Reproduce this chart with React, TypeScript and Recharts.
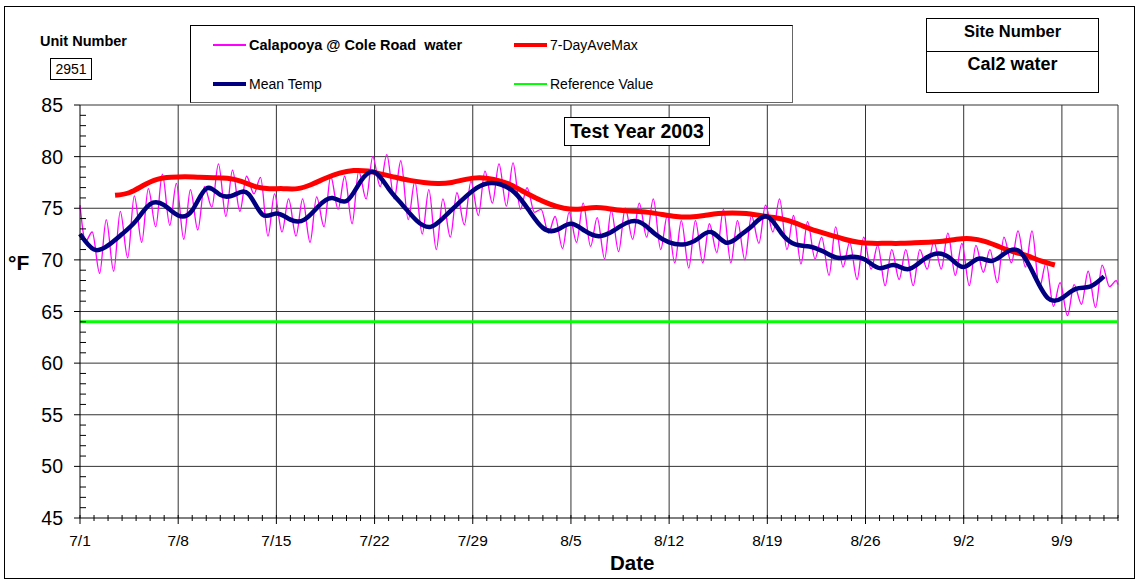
import React from 'react'
import { ComposedChart, Line, XAxis, YAxis, CartesianGrid } from 'recharts'

// daily readings, day 0 = 7/1
const dateLabels = ['7/1', '7/8', '7/15', '7/22', '7/29', '8/5', '8/12', '8/19', '8/26', '9/2', '9/9']
const yTickValues = Array.from({ length: 41 }, (_, i) => 45 + i)
const xTickValues = Array.from({ length: 75 }, (_, i) => i)

// hourly water temp, summarised as daily low (morning) and high (evening)
const waterStart = 75.3
const waterEnd = 67.6
const dailyLow = [
  71.8, 68.7, 68.9, 70.2, 71.7, 73.2, 73.35, 72.0, 72.9, 75.1,
  74.2, 74.7, 76.4, 72.3, 72.7, 72.3, 71.7, 73.2, 74.9, 73.5,
  75.9, 77.1, 75.9, 73.9, 72.5, 71.0, 72.2, 73.4, 74.3, 75.5,
  75.2, 74.9, 74.6, 72.6, 71.1, 71.7, 71.3, 70.1, 70.8, 72.0,
  72.2, 71.0, 69.7, 69.2, 69.7, 70.7, 69.7, 70.0, 71.6, 72.7,
  71.0, 69.6, 70.1, 68.5, 69.3, 68.1, 69.1, 67.5, 68.1, 67.5,
  69.1, 69.1, 68.5, 67.5, 68.8, 67.8, 69.7, 69.3, 67.3, 65.5,
  64.6, 65.7, 65.4, 67.4,
]
const dailyHigh = [
  72.7, 73.9, 74.7, 76.2, 76.9, 78.3, 77.4, 76.8, 77.1, 79.3,
  78.7, 78.1, 78.0, 76.4, 75.9, 75.9, 76.1, 78.1, 78.1, 78.6,
  80.0, 80.2, 79.6, 77.6, 76.8, 75.9, 76.5, 77.6, 78.6, 79.3,
  79.4, 77.0, 74.9, 74.2, 74.6, 75.5, 74.1, 74.8, 75.0, 75.5,
  75.9, 74.3, 73.8, 73.8, 73.5, 74.9, 73.8, 74.3, 75.3, 75.9,
  74.3, 73.7, 72.2, 73.2, 71.7, 72.2, 71.4, 71.0, 71.0, 71.0,
  71.8, 72.6, 71.6, 71.4, 71.0, 72.2, 72.8, 72.8, 69.7, 67.8,
  67.6, 68.9, 69.5, 68.0,
]
const lowAt = 0.4
const highAt = 0.87

const meanTemp = [
  72.5, 71.0, 71.4, 72.5, 73.8, 75.4, 75.3, 74.3, 74.8, 76.9,
  76.3, 76.3, 76.4, 74.4, 74.5, 73.9, 73.9, 75.2, 76.0, 75.7,
  77.6, 78.5, 76.9, 75.3, 73.8, 73.2, 74.2, 75.5, 76.7, 77.4,
  77.3, 76.5, 74.8, 73.1, 72.9, 73.5, 72.8, 72.3, 72.8, 73.6,
  73.6, 72.5, 71.7, 71.5, 72.0, 72.7, 71.7, 72.3, 73.4, 74.2,
  72.6, 71.5, 71.3, 70.8, 70.2, 70.3, 70.0, 69.2, 69.5, 69.1,
  69.9, 70.6, 70.2, 69.3, 70.1, 69.9, 70.7, 70.8, 68.6, 66.3,
  66.3, 67.2, 67.4, 68.4,
]

const aveMaxStart = 2.5
const sevenDayAveMax = [
  76.25, 76.5, 77.2, 77.8, 78.0, 78.05, 78.0, 77.95, 77.9, 77.6,
  77.1, 76.9, 76.9, 76.9, 77.3, 77.9, 78.4, 78.65, 78.6, 78.3,
  78.0, 77.7, 77.5, 77.4, 77.5, 77.8, 77.95, 77.8, 77.4, 76.7,
  76.0, 75.4, 75.0, 74.9, 75.05, 75.0, 74.8, 74.7, 74.6, 74.4,
  74.2, 74.15, 74.3, 74.5, 74.55, 74.5, 74.3, 74.1, 73.8, 73.3,
  72.8, 72.4, 72.0, 71.7, 71.6, 71.6, 71.6, 71.65, 71.7, 71.8,
  72.0, 72.05, 71.8, 71.3, 70.8, 70.4, 69.9, 69.5,
]

const referenceValue = 64
const lastDay = 74

const waterData = [{ day: 0, v: waterStart }]
dailyLow.forEach((lo, d) => {
  waterData.push({ day: d + lowAt, v: lo })
  waterData.push({ day: d + highAt, v: dailyHigh[d] })
})
waterData.push({ day: lastDay, v: waterEnd })

const meanData = meanTemp.map((v, d) => ({ day: d, v }))
const aveMaxData = sevenDayAveMax.map((v, i) => ({ day: aveMaxStart + i, v }))
const refData = [
  { day: 0, v: referenceValue },
  { day: lastDay, v: referenceValue },
]

const FONT = '"Liberation Sans", Arial, sans-serif'

const XTick = ({ x, y, payload }: any) => {
  const d = payload.value
  const major = d % 7 === 0
  return (
    <g>
      <line x1={x} x2={x} y1={y - 3} y2={y + (major ? 6 : 3)} stroke='#000' />
      {major && (
        <text x={x} y={y + 28} textAnchor='middle' fontSize={15.5} fontFamily={FONT} fill='#000'>
          {dateLabels[d / 7]}
        </text>
      )}
    </g>
  )
}

const YTick = ({ x, y, payload }: any) => {
  const v = payload.value
  if (v % 5 !== 0) {
    return <line x1={x} x2={x + 6} y1={y} y2={y} stroke='#000' />
  }
  return (
    <g>
      <line x1={x - 6} x2={x} y1={y} y2={y} stroke='#000' />
      <text x={x - 17} y={y + 7} textAnchor='end' fontSize={19.5} fontFamily={FONT} fill='#000'>
        {v}
      </text>
    </g>
  )
}

const abs = (left: number, top: number, extra: React.CSSProperties = {}): React.CSSProperties => ({
  position: 'absolute',
  left,
  top,
  fontFamily: FONT,
  color: '#000',
  ...extra,
})

const LegendItem = ({ left, top, color, width, label, bold }: any) => (
  <div style={abs(left, top, { display: 'flex', alignItems: 'center', fontSize: bold ? 14.5 : 14, whiteSpace: 'pre', height: 18 })}>
    <div style={{ width: 33, height: width, background: color, marginRight: 3 }} />
    <span style={{ fontWeight: bold ? 'bold' : 'normal' }}>{label}</span>
  </div>
)

export default function App() {
  return (
    <div style={{ position: 'absolute', left: 0, top: 0, width: 1138, height: 582, background: '#fff' }}>
      <ComposedChart
        width={1138}
        height={582}
        margin={{ top: 105, right: 20, bottom: 0, left: 0 }}
        style={{ position: 'absolute', left: 0, top: 0 }}
      >
        <CartesianGrid
          horizontalValues={[50, 55, 60, 65, 70, 75, 80, 85]}
          verticalValues={[7, 14, 21, 28, 35, 42, 49, 56, 63, 70, 74]}
          stroke='#333'
        />
        <XAxis
          type='number'
          dataKey='day'
          domain={[0, lastDay]}
          ticks={xTickValues}
          interval={0}
          height={64}
          tickSize={0}
          tickMargin={0}
          tickLine={false}
          tick={<XTick />}
          axisLine={{ stroke: '#000' }}
          allowDuplicatedCategory={false}
        />
        <YAxis
          type='number'
          domain={[45, 85]}
          ticks={yTickValues}
          interval={0}
          width={80}
          tickSize={0}
          tickMargin={0}
          tickLine={false}
          tick={<YTick />}
          axisLine={{ stroke: '#000' }}
        />
        <Line data={refData} dataKey='v' stroke='#00FF00' strokeWidth={3} dot={false} isAnimationActive={false} />
        <Line data={waterData} dataKey='v' type='monotone' stroke='#FF00FF' strokeWidth={1.3} dot={false} isAnimationActive={false} />
        <Line data={aveMaxData} dataKey='v' type='natural' stroke='#FF0000' strokeWidth={5} dot={false} isAnimationActive={false} />
        <Line data={meanData} dataKey='v' type='natural' stroke='#000080' strokeWidth={4.5} dot={false} isAnimationActive={false} />
      </ComposedChart>

      {/* outer frame */}
      <div style={abs(4, 6, { width: 1131, height: 573, border: '1px solid #000', boxSizing: 'border-box', pointerEvents: 'none' })} />

      <div style={abs(40, 33, { fontSize: 14.5, fontWeight: 'bold' })}>Unit Number</div>
      <div style={abs(50, 58, { width: 42, height: 22, border: '1px solid #000', boxSizing: 'border-box', fontSize: 14, textAlign: 'center', lineHeight: '20px' })}>2951</div>

      <div style={abs(190, 25, { width: 603, height: 78, border: '1px solid #000', borderRightColor: '#666', borderBottomColor: '#666', boxSizing: 'border-box', background: '#fff' })} />
      <LegendItem left={213} top={36} color='#FF00FF' width={1.5} label={'Calapooya @ Cole Road  water'} bold />
      <LegendItem left={514} top={36} color='#FF0000' width={4} label='7-DayAveMax' />
      <LegendItem left={213} top={75} color='#000080' width={4} label='Mean Temp' />
      <LegendItem left={514} top={75} color='#00FF00' width={2.5} label='Reference Value' />

      <div style={abs(926, 18, { width: 173, height: 75, border: '1px solid #000', boxSizing: 'border-box', background: '#fff' })}>
        <div style={{ height: 32, borderBottom: '1px solid #000', textAlign: 'center', fontSize: 16.5, fontWeight: 'bold', lineHeight: '24px' }}>Site Number</div>
        <div style={{ textAlign: 'center', fontSize: 18, fontWeight: 'bold', lineHeight: '24px' }}>Cal2 water</div>
      </div>

      <div style={abs(564, 117, { width: 146, height: 29, border: '1px solid #000', boxSizing: 'border-box', background: '#fff', fontSize: 19.5, fontWeight: 'bold', textAlign: 'center', lineHeight: '27px' })}>Test Year 2003</div>

      <div style={abs(8, 251, { fontSize: 21, fontWeight: 'bold' })}>°F</div>
      <div style={abs(610, 551, { fontSize: 20.5, fontWeight: 'bold' })}>Date</div>
    </div>
  )
}
